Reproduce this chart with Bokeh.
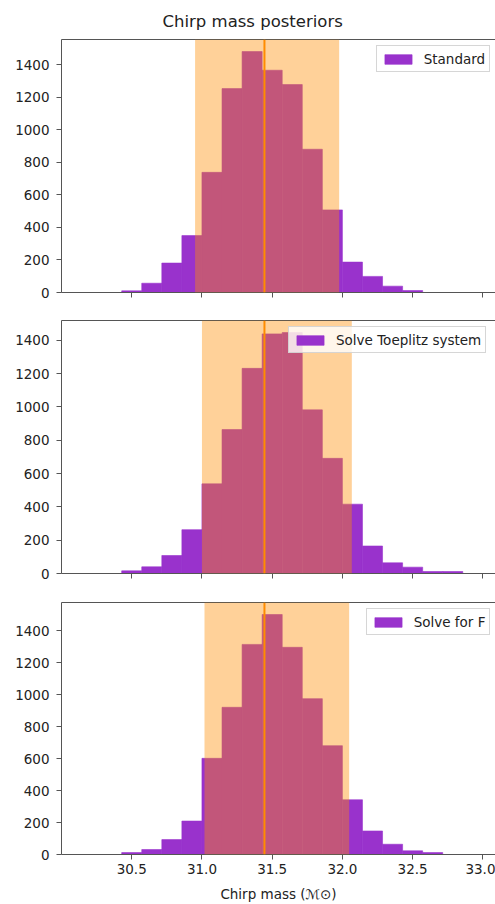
import numpy as np
from bokeh.plotting import figure
from bokeh.models import (BoxAnnotation, Span, Legend, LegendItem, FixedTicker,
                          LinearAxis, Range1d, Title, PrintfTickFormatter)
from bokeh.layouts import column
from bokeh.embed import file_html
from bokeh.resources import INLINE

# ---------------- data ----------------
bin_edges = np.linspace(30.0, 33.0, 22)
labels = ["Standard", "Solve Toeplitz system", "Solve for F"]
counts_standard = [0, 0, 0, 10, 57, 181, 350, 739, 1254, 1482, 1367, 1279, 881, 508,
                   187, 99, 39, 12, 0, 0, 0]
counts_toeplitz = [0, 0, 0, 16, 40, 108, 263, 538, 864, 1231, 1438, 1446, 982, 691,
                   416, 165, 64, 38, 12, 12, 0]
counts_solve_f = [0, 0, 0, 12, 31, 93, 209, 601, 920, 1313, 1500, 1295, 974, 680,
                  342, 147, 64, 23, 12, 0, 0]
interval_lo = [30.951, 31.0, 31.018]
interval_hi = [31.977, 32.067, 32.048]
truth_value = 31.445
x_ticks = [30.5, 31.0, 31.5, 32.0, 32.5, 33.0]
y_ticks = [0, 200, 400, 600, 800, 1000, 1200, 1400]
x_label = "Chirp mass (ℳ⊙)"
title_text = "Chirp mass posteriors"

# ---------------- style ----------------
FONT = "DejaVu Sans"
TXT = "#222222"
AX = "#555555"
BAR = "darkorchid"
BAND = "darkorange"
FS = "13.5px"
W = 495
X0, X1 = 30.0, 33.09


def style_axes(p, show_xlabels):
    for ax in p.yaxis:
        ax.ticker = FixedTicker(ticks=y_ticks)
        ax.major_tick_out = 5
        ax.major_tick_in = 0
        ax.minor_tick_out = 0
        ax.minor_tick_in = 0
        ax.major_label_standoff = 7
        ax.major_label_text_font = FONT
        ax.major_label_text_font_size = FS
        ax.major_label_text_color = TXT
        ax.axis_line_color = AX
        ax.major_tick_line_color = AX
    for ax in p.xaxis:
        ax.ticker = FixedTicker(ticks=x_ticks)
        ax.formatter = PrintfTickFormatter(format="%.1f")
        ax.major_tick_out = 5
        ax.major_tick_in = 0
        ax.minor_tick_out = 0
        ax.minor_tick_in = 0
        ax.major_label_standoff = 4
        ax.major_label_text_font = FONT
        ax.major_label_text_font_size = FS
        ax.major_label_text_color = TXT
        ax.axis_line_color = AX
        ax.major_tick_line_color = AX
        if show_xlabels:
            ax.axis_label = x_label
            ax.axis_label_text_font = FONT
            ax.axis_label_text_font_size = FS
            ax.axis_label_text_font_style = "normal"
            ax.axis_label_text_color = TXT
            ax.axis_label_standoff = 9
        else:
            ax.major_label_overrides = {t: "" for t in x_ticks}
            ax.major_label_standoff = 0
    top_axis = LinearAxis(ticker=FixedTicker(ticks=[]),
                          major_tick_out=0, major_tick_in=0, minor_tick_out=0, minor_tick_in=0,
                          axis_line_color=AX, major_label_standoff=0)
    p.add_layout(top_axis, "above")


def make_panel(counts, lo, hi, label, height, top, bottom, legend_x, show_xlabels, title=None):
    p = figure(width=W, height=height, x_range=Range1d(X0, X1),
               y_range=Range1d(0, max(counts) * 1.05),
               output_backend="svg", toolbar_location=None,
               min_border_left=61, min_border_right=0,
               min_border_top=top, min_border_bottom=bottom)
    p.outline_line_color = None
    p.xgrid.visible = False
    p.ygrid.visible = False
    p.background_fill_color = "white"
    p.border_fill_color = "white"
    if title is not None:
        p.title = Title(text=title, align="left", offset=101, text_font=FONT,
                        text_font_size="16.5px", text_font_style="normal",
                        text_color=TXT, standoff=18)
    r = p.quad(left=bin_edges[:-1], right=bin_edges[1:], bottom=0, top=counts,
               fill_color=BAR, line_color=BAR, line_width=0.6)
    p.add_layout(BoxAnnotation(left=lo, right=hi, fill_color=BAND, fill_alpha=0.4,
                               line_color=None))
    p.add_layout(Span(location=truth_value, dimension="height", line_color=BAND,
                      line_width=2))
    style_axes(p, show_xlabels)
    frame_h = height - top - bottom
    pad = 4
    lab_h = 17.6
    leg_h = 2 * pad + lab_h
    leg = Legend(items=[LegendItem(label=label, renderers=[r])],
                 location=(legend_x, frame_h - 7.7 - leg_h),
                 padding=pad, spacing=0, margin=0,
                 glyph_width=34, glyph_height=12, label_standoff=9,
                 label_height=int(lab_h), label_text_font=FONT,
                 label_text_font_size=FS, label_text_color=TXT,
                 background_fill_color="white", background_fill_alpha=0.8,
                 border_line_color="#cccccc", border_line_alpha=0.8, border_line_width=1)
    p.add_layout(leg)
    return p


p1 = make_panel(counts_standard, interval_lo[0], interval_hi[0], labels[0],
                306, 39, 14, 314.7, False, title=title_text)
p2 = make_panel(counts_toeplitz, interval_lo[1], interval_hi[1], labels[1],
                282, 14, 15, 227, False)
p3 = make_panel(counts_solve_f, interval_lo[2], interval_hi[2], labels[2],
                316, 14, 50, 304.7, True)

layout = column(p1, p2, p3, spacing=0)
open("out.html", "w").write(file_html(layout, INLINE))
